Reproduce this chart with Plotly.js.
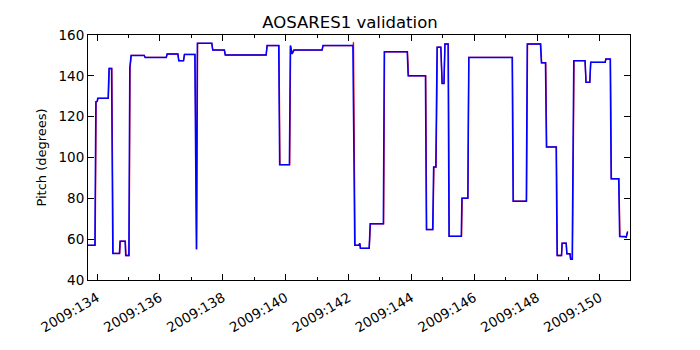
<!DOCTYPE html>
<html>
<head>
<meta charset="utf-8">
<script src="https://cdn.plot.ly/plotly-3.0.1.min.js"></script>
<style>
  html, body { margin: 0; padding: 0; background: #fff; }
  #chart { width: 700px; height: 350px; }
</style>
</head>
<body>
<div id="chart"></div>
<script>
// day of year 2009 (fractional) and pitch in degrees
const blueDay = [
  133.71, 133.93, 133.96, 134.0, 134.02, 134.35, 134.38, 134.46, 134.5, 134.71,
  134.73, 134.89, 134.91, 135.01, 135.04, 135.08, 135.5, 135.53, 136.2, 136.23,
  136.57, 136.6, 136.75, 136.78, 137.11, 137.16, 137.19, 137.65, 137.68, 138.05,
  138.08, 139.38, 139.41, 139.78, 139.81, 140.12, 140.15, 140.2, 140.26, 141.16,
  141.19, 142.14, 142.2, 142.33, 142.36, 142.38, 142.66, 142.69, 143.11, 143.14,
  143.87, 143.9, 144.45, 144.48, 144.68, 144.71, 144.78, 144.82, 144.94, 144.98,
  145.04, 145.07, 145.17, 145.2, 145.59, 145.61, 145.8, 145.83, 147.21, 147.24,
  147.66, 147.69, 148.11, 148.14, 148.27, 148.3, 148.61, 148.64, 148.78, 148.8,
  148.93, 148.95, 149.05, 149.07, 149.12, 149.17, 149.53, 149.56, 149.68, 149.71,
  150.17, 150.19, 150.33, 150.36, 150.6, 150.63, 150.8, 150.84, 150.88, 150.9
];
const bluePitch = [
  57, 57, 127.3, 127.5, 129, 129, 143.6, 143.6, 53, 53,
  59, 59, 52, 52, 144, 150, 150, 149, 149, 150.7,
  150.7, 147.4, 147.4, 150.5, 150.5, 55, 155.9, 155.9, 152.6, 152.6,
  150.2, 150.2, 154.8, 154.8, 96.5, 96.5, 154.8, 150.7, 152.6, 152.6,
  154.8, 154.8, 57, 57, 58, 55.5, 55.5, 67.5, 67.5, 151.8,
  151.8, 140, 140, 64.7, 64.7, 95.3, 95.3, 154, 154, 136.3,
  136.3, 155.6, 155.6, 61.4, 61.4, 80.1, 80.1, 149, 149, 78.6,
  78.6, 155.6, 155.6, 146.4, 146.4, 105.2, 105.2, 52, 52, 58,
  58, 52.8, 52.8, 50.2, 50.2, 147.4, 147.4, 136.8, 136.8, 146.6,
  146.6, 148.2, 148.2, 89.6, 89.6, 61.3, 61.3, 61, 63.4, 63.4
];

const redDay = [
  133.71, 133.94, 133.97, 134.01, 134.03, 134.36, 134.39, 134.47, 134.51, 134.72,
  134.74, 134.9, 134.92, 135.02, 135.05, 135.09, 135.5, 135.53, 136.2, 136.23,
  136.57, 136.6, 136.75, 136.78, 137.12, 137.17, 137.2, 137.65, 137.68, 138.05,
  138.08, 139.38, 139.41, 139.79, 139.82, 140.13, 140.16, 140.21, 140.27, 141.16,
  141.19, 142.15, 142.16, 142.21, 142.33, 142.36, 142.38, 142.66, 142.7, 143.12,
  143.15, 143.88, 143.91, 144.46, 144.49, 144.69, 144.72, 144.79, 144.83, 144.94,
  144.98, 145.04, 145.07, 145.18, 145.21, 145.6, 145.62, 145.8, 145.83, 147.22,
  147.25, 147.67, 147.7, 148.12, 148.15, 148.28, 148.31, 148.62, 148.65, 148.78,
  148.8, 148.93, 148.95, 149.05, 149.07, 149.13, 149.18, 149.53, 149.56, 149.68,
  149.71, 150.17, 150.19, 150.34, 150.37, 150.61, 150.64, 150.8, 150.84, 150.88, 150.9
];
const redPitch = [
  57, 57, 127.3, 127.5, 129, 129, 143.6, 143.6, 53, 53,
  59, 59, 52, 52, 144, 150, 150, 149, 149, 150.7,
  150.7, 147.4, 147.4, 150.5, 150.5, 55, 155.9, 155.9, 152.6, 152.6,
  150.2, 150.2, 154.8, 154.8, 96.5, 96.5, 154.8, 150.7, 152.6, 152.6,
  154.8, 154.8, 156.5, 57, 57, 58, 55.5, 55.5, 67.5, 67.5,
  151.8, 151.8, 140, 140, 64.7, 64.7, 95.3, 95.3, 154, 154,
  136.3, 136.3, 155.6, 155.6, 61.4, 61.4, 80.1, 80.1, 149, 149,
  78.6, 78.6, 155.6, 155.6, 146.4, 146.4, 105.2, 105.2, 52, 52,
  58, 58, 52.8, 52.8, 50.2, 50.2, 147.4, 147.4, 136.8, 136.8,
  146.6, 146.6, 148.2, 148.2, 89.6, 89.6, 61.3, 61.3, 61, 63.4, 63.4
];

const tickDays = [134, 136, 138, 140, 142, 144, 146, 148, 150];
const tickLabels = ["2009:134", "2009:136", "2009:138", "2009:140", "2009:142",
                    "2009:144", "2009:146", "2009:148", "2009:150"];
const yTicks = [40, 60, 80, 100, 120, 140, 160];

const redTrace = {
  x: redDay,
  y: redPitch,
  mode: "lines",
  line: { color: "#ff0000", width: 1.3 },
  hoverinfo: "skip"
};
const blueTrace = {
  x: blueDay,
  y: bluePitch,
  mode: "lines",
  line: { color: "#0000ff", width: 1.5 },
  hoverinfo: "skip"
};

const layout = {
  width: 700,
  height: 350,
  showlegend: false,
  paper_bgcolor: "#fff",
  plot_bgcolor: "#fff",
  font: { family: "DejaVu Sans, sans-serif", size: 13, color: "#000" },
  title: {
    text: "AOSARES1 validation",
    font: { size: 16.5 },
    x: 0.5, xanchor: "center",
    y: 0.92, yanchor: "bottom"
  },
  margin: { l: 88, r: 70, t: 35, b: 70 },
  xaxis: {
    range: [133.71, 150.96],
    tickmode: "array",
    tickvals: tickDays,
    ticktext: tickLabels,
    tickangle: -30,
    tickfont: { size: 13.5 },
    ticklabelstandoff: 4,
    ticks: "inside",
    ticklen: 6,
    tickcolor: "#000",
    showline: true,
    linecolor: "#000",
    linewidth: 1,
    mirror: "allticks",
    showgrid: false,
    zeroline: false,
    minor: { tickmode: "linear", tick0: 133, dtick: 1, ticks: "inside", ticklen: 3, tickcolor: "#000", showgrid: false }
  },
  yaxis: {
    title: { text: "Pitch (degrees)", font: { size: 13 }, standoff: 8 },
    range: [40, 160],
    tickmode: "array",
    tickvals: yTicks,
    tickfont: { size: 13.5 },
    ticks: "inside",
    ticklen: 6,
    tickcolor: "#000",
    showline: true,
    linecolor: "#000",
    linewidth: 1,
    mirror: "allticks",
    showgrid: false,
    zeroline: false
  }
};

Plotly.newPlot("chart", [redTrace, blueTrace], layout, { staticPlot: true, displayModeBar: false });
</script>
</body>
</html>
